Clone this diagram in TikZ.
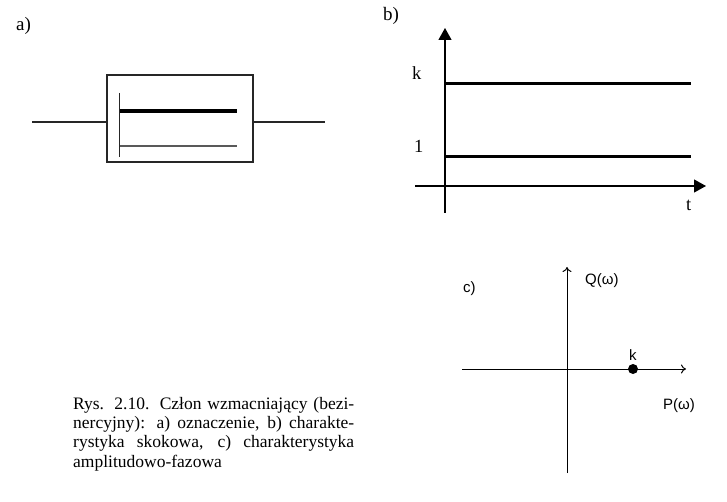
\documentclass[tikz,border=0pt]{standalone}
\usepackage{fontspec}
\setmainfont{Liberation Serif}
\newfontfamily\sfc{Liberation Sans}
\usetikzlibrary{arrows.meta}
\tikzset{
  lbl/.style={anchor=base west, inner sep=0pt, font=\fontsize{19}{22}\selectfont},
  lbllev/.style={anchor=base west, inner sep=0pt, font=\fontsize{18.5}{22}\selectfont},
  lblsf/.style={anchor=base west, inner sep=0pt, font=\sfc\fontsize{15}{17}\selectfont},
  thinln/.style={line width=1.1pt, draw=black!85},
  thickln/.style={line width=4pt},
  levelln/.style={line width=3pt},
  axisb/.style={line width=1.2pt, -{Triangle[length=12pt,width=13pt]}},
  axisc/.style={line width=1pt, -{To[length=5pt,width=9pt]}},
  capline/.style={anchor=base west, inner sep=0pt, font=\fontsize{17.5}{19}\selectfont}
}
\begin{document}
\begin{tikzpicture}[x=1pt,y=-1pt]
\useasboundingbox (0,0) rectangle (727,502);
% a)
\node[lbl] (la) at (16,31) {a)};
\node[draw=black!85, line width=1.2pt, minimum width=146pt, minimum height=87pt, inner sep=0pt] (box) at (180,118.5) {};
\coordinate (inA) at (32,122);
\coordinate (outA) at (325,122);
\draw[thinln] (inA) -- (box.west |- inA);
\draw[thinln] (box.east |- outA) -- (outA);
\coordinate (vt) at (119.5,93);
\coordinate (vb) at (119.5,157);
\coordinate (hk) at (237,111);
\coordinate (h1) at (237,146);
\draw[thinln] (vt) -- (vb);
\draw[thickln] (vt |- hk) -- (hk);
\draw[thinln, draw=black!65] (vt |- h1) -- (h1);
% b)
\node[lbl] (lb) at (383,21) {b)};
\coordinate (by0) at (445,213);
\coordinate (by1) at (445,28);
\coordinate (bx0) at (415,186);
\coordinate (bx1) at (706,186);
\draw[axisb] (by0) -- (by1);
\draw[axisb] (bx0) -- (bx1);
\coordinate (kend) at (691,84);
\coordinate (oend) at (691,157);
\draw[levelln] (by0 |- kend) -- (kend);
\draw[levelln] (by0 |- oend) -- (oend);
\node[lbllev] (tk) at (412,80) {k};
\node[lbllev] (t1) at (414,153) {1};
\node[lbllev] (tt) at (686,211) {t};
% c)
\node[lblsf] (lc) at (463,292) {c)};
\coordinate (cy0) at (567,473);
\coordinate (cy1) at (567,267);
\coordinate (cx0) at (462,369);
\coordinate (cx1) at (686,369);
\draw[axisc] (cy0) -- (cy1);
\draw[axisc] (cx0) -- (cx1);
\fill (633,369) circle (5pt) coordinate (dot);
\node[lblsf] (ck) at (629,360) {k};
\node[lblsf] (cq) at (585,284) {Q(ω)};
\node[lblsf] (cp) at (663,409) {P(ω)};
% caption
\node[capline] (c1) at (73,409) {\makebox[281pt][s]{Rys. 2.10. Człon wzmacniający (bezi-}};
\node[capline] (c2) at (73,428.3) {\makebox[281pt][s]{nercyjny): a) oznaczenie, b) charakte-}};
\node[capline] (c3) at (73,447.6) {\makebox[281pt][s]{rystyka skokowa, c) charakterystyka}};
\node[capline] (c4) at (73,467) {amplitudowo-fazowa};
\end{tikzpicture}
\end{document}
